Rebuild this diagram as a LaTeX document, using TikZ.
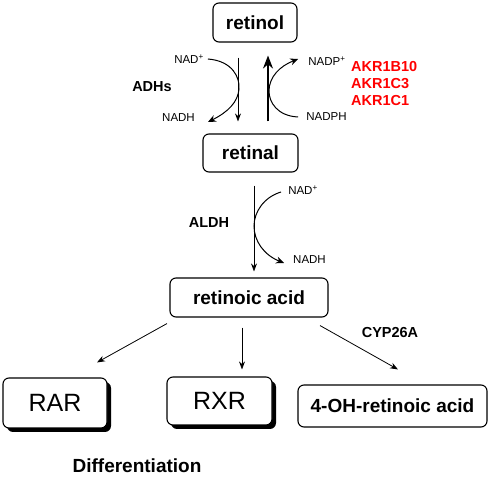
\documentclass[tikz,border=0pt]{standalone}
\usepackage{fontspec}
\setmainfont{Liberation Sans}
\usetikzlibrary{arrows.meta,shadows}
\begin{document}
\begin{tikzpicture}[x=1pt,y=-1pt,
  box/.style={draw,line width=1.1pt,rounded corners=6pt,fill=white,inner sep=0pt,font=\fontsize{19}{19}\selectfont\bfseries},
  shbox/.style={draw,line width=1.1pt,rounded corners=6pt,fill=white,inner sep=0pt,font=\fontsize{25}{25}\selectfont,
    drop shadow={shadow xshift=4pt,shadow yshift=-4pt,fill=black,opacity=1}},
  small/.style={font=\fontsize{11.5}{12}\selectfont,inner sep=1pt},
  enz/.style={font=\fontsize{14.5}{15}\selectfont\bfseries,inner sep=1pt},
  thin/.style={line width=0.8pt,-{Stealth[length=8pt,width=6pt]}},
  curv/.style={line width=1pt,-{Stealth[length=8pt,width=7pt]}},
  thick/.style={line width=1.8pt,-{Stealth[length=13pt,width=10pt]}}
]
\useasboundingbox (0,0) rectangle (491,478);
% main boxes
\node[box,minimum width=84pt,minimum height=39pt] (retinol) at (255,22.5) {retinol};
\node[box,minimum width=95pt,minimum height=38pt] (retinal) at (250.5,153) {retinal};
\node[box,minimum width=158pt,minimum height=39pt] (ra) at (249,297.5) {retinoic acid};
\node[shbox,minimum width=104pt,minimum height=50pt] (rar) at (55,403) {RAR};
\node[shbox,minimum width=105pt,minimum height=48pt] (rxr) at (219.5,401) {RXR};
\node[box,minimum width=189pt,minimum height=42pt] (oh) at (392.5,406) {4-OH-retinoic acid};
% labels
\node[small] (nadA) at (189,59) {NAD\textsuperscript{+}};
\node[small] (nadhA) at (178.5,118) {NADH};
\node[small] (nadpA) at (327,61) {NADP\textsuperscript{+}};
\node[small] (nadphA) at (326.5,117) {NADPH};
\node[enz] (adh) at (152,87) {ADHs};
\node[enz,text=red,anchor=west] (akr1) at (350,67) {AKR1B10};
\node[enz,text=red,anchor=west] (akr2) at (350,84) {AKR1C3};
\node[enz,text=red,anchor=west] (akr3) at (350,101) {AKR1C1};
\node[small] (nadB) at (303,190) {NAD\textsuperscript{+}};
\node[small] (nadhB) at (309.5,260) {NADH};
\node[enz] (aldh) at (209,223) {ALDH};
\node[enz] (cyp) at (390,333) {CYP26A};
\node[font=\fontsize{19}{19}\selectfont\bfseries] (diff) at (137,466) {Differentiation};
% straight arrows
\draw[thin] ([xshift=-17pt,yshift=-15pt]retinol.south) -- ([xshift=-12.5pt,yshift=12pt]retinal.north);
\draw[thick] ([xshift=17.5pt,yshift=12pt]retinal.north) -- ([xshift=13pt,yshift=-13pt]retinol.south);
\draw[thin] ([xshift=3.5pt,yshift=-13pt]retinal.south) -- ([xshift=5pt,yshift=6pt]ra.north);
\draw[thin] ([xshift=-82pt,yshift=-6pt]ra.south) -- ([xshift=42pt,yshift=15pt]rar.north);
\draw[thin] ([xshift=-7pt,yshift=-10pt]ra.south) -- ([xshift=22.5pt,yshift=7pt]rxr.north);
\draw[thin] ([xshift=71pt,yshift=-8pt]ra.south) -- ([xshift=5.5pt,yshift=15pt]oh.north);
% curved cofactor arrows
\draw[curv] ([xshift=3pt]nadA.east) .. controls (233,61) and (240,78) .. (239,89)
  .. controls (238,102) and (228,112) .. ([xshift=12pt,yshift=-4pt]nadhA.east);
\draw[curv] ([xshift=-7pt]nadphA.west) .. controls (277,116) and (269,102) .. (269,91)
  .. controls (269,77) and (280,66) .. ([xshift=-9pt,yshift=2pt]nadpA.west);
\draw[curv] ([xshift=-6pt,yshift=-2pt]nadB.west) .. controls (264,197) and (254,212) .. (254,226)
  .. controls (254,241) and (264,255) .. ([xshift=-8pt,yshift=-3pt]nadhB.west);
\end{tikzpicture}
\end{document}
